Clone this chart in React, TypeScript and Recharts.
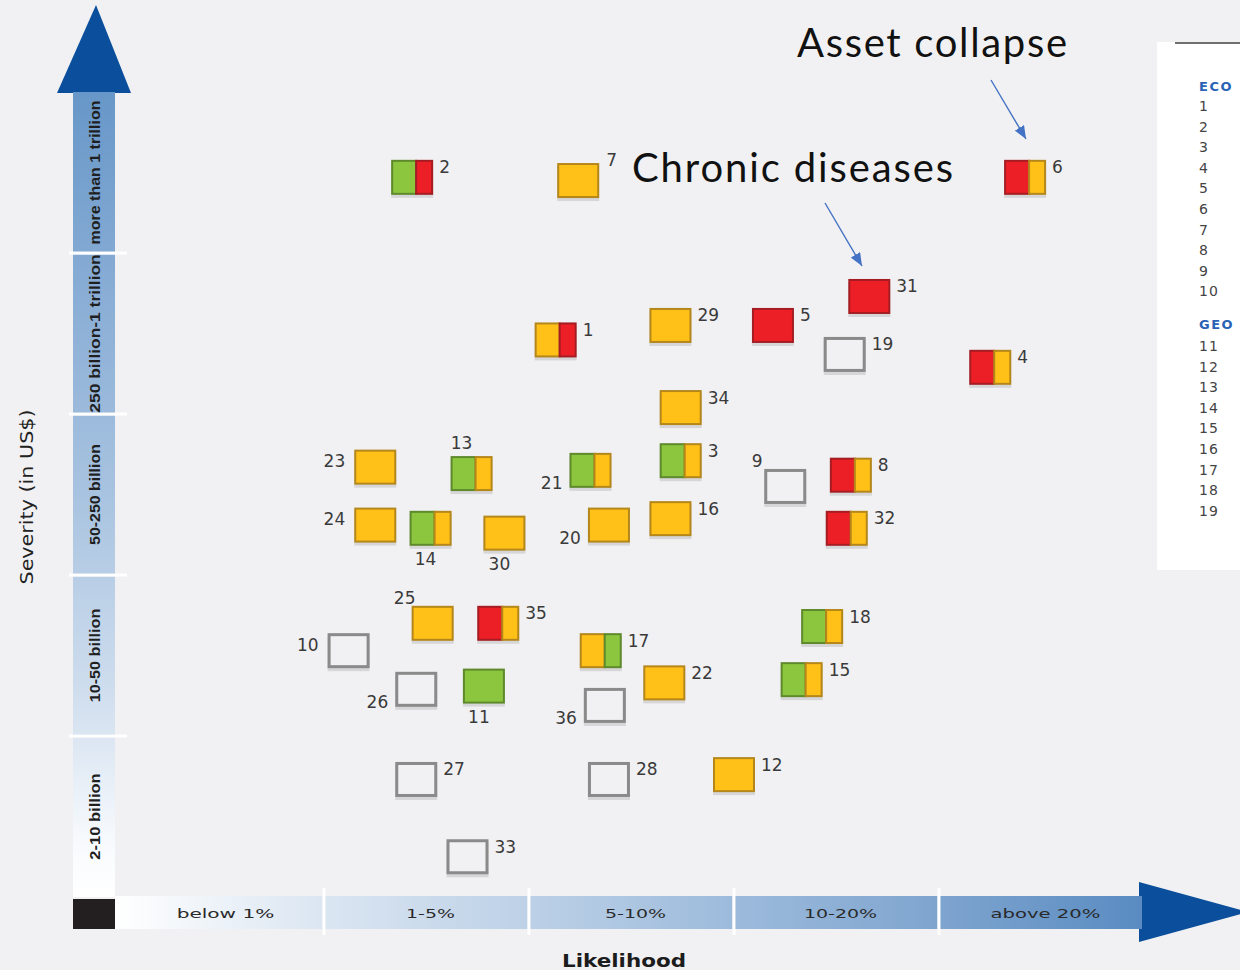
import React from 'react';
import { ScatterChart, Scatter, XAxis, YAxis, Customized } from 'recharts';

// ---------- data ----------
const riskIds = [2, 7, 6, 31, 29, 5, 19, 1, 4, 34, 23, 13, 21, 3, 9, 8, 24, 14, 30, 20, 16, 32, 25, 35, 10, 17, 18, 22, 15, 26, 11, 36, 27, 28, 12, 33];
// likelihood in band units (0 = start of "below 1%", 5 = end of "above 20%")
const likelihood = [1.43, 2.24, 4.42, 3.66, 2.69, 3.19, 3.54, 2.13, 4.25, 2.74, 1.25, 1.72, 2.30, 2.74, 3.25, 3.57, 1.25, 1.52, 1.88, 2.39, 2.69, 3.55, 1.53, 1.85, 1.12, 2.35, 3.43, 2.66, 3.33, 1.45, 1.78, 2.37, 1.45, 2.39, 3.00, 1.70];
// severity in band units (0 = bottom of "2-10 billion", 5 = top of "more than 1 trillion")
const severity = [4.47, 4.45, 4.47, 3.73, 3.55, 3.55, 3.37, 3.46, 3.29, 3.04, 2.67, 2.63, 2.65, 2.71, 2.55, 2.62, 2.31, 2.29, 2.26, 2.31, 2.35, 2.29, 1.70, 1.70, 1.53, 1.53, 1.68, 1.33, 1.35, 1.29, 1.31, 1.19, 0.73, 0.73, 0.76, 0.25];
// G = green, Y = yellow, R = red, "" = empty (outline only)
const riskColors = ['GR', 'Y', 'RY', 'R', 'Y', 'R', '', 'YR', 'RY', 'Y', 'Y', 'GY', 'GY', 'GY', '', 'RY', 'Y', 'GY', 'Y', 'Y', 'Y', 'RY', 'Y', 'RY', '', 'YG', 'GY', 'Y', 'GY', '', 'G', '', '', '', 'Y', ''];
// label side: r = right, tr = top-right, l = left, lb = left-below, t = top, tl = top-left, b = below
const labelSides = ['r', 'tr', 'r', 'r', 'r', 'r', 'r', 'r', 'r', 'r', 'l', 't', 'lb', 'r', 'tl', 'r', 'l', 'b', 'b', 'lb', 'r', 'r', 'tl', 'r', 'l', 'r', 'r', 'r', 'r', 'lb', 'b', 'lb', 'r', 'r', 'r', 'r'];

const likelihoodLabels = ['below 1%', '1-5%', '5-10%', '10-20%', 'above 20%'];
const severityLabels = ['2-10 billion', '10-50 billion', '50-250 billion', '250 billion-1 trillion', 'more than 1 trillion'];
const bandTicks = [0.5, 1.5, 2.5, 3.5, 4.5];

const legendHeadings = ['ECO', 'GEO'];
const ecoIds = [1, 2, 3, 4, 5, 6, 7, 8, 9, 10];
const geoIds = [11, 12, 13, 14, 15, 16, 17, 18, 19];

const chartData = riskIds.map((id, i) => ({
  id,
  x: likelihood[i],
  y: severity[i],
  colors: riskColors[i],
  side: labelSides[i],
}));

// ---------- style constants ----------
const BG = '#f1f1f3';
const ARROW_BLUE = '#0b4f9c';
const FILL: Record<string, string> = { G: '#8cc63f', Y: '#ffc118', R: '#ed1f26' };
const EDGE: Record<string, string> = { G: '#5e8a2c', Y: '#b5871a', R: '#a51d22' };
const SQ_W = 42;
const SQ_H = 35;
const X_BAND = 205;
const Y_BAND = 161;

function RiskSquare(props: any) {
  const { cx, cy, payload } = props;
  if (cx == null || cy == null) return null;
  const x0 = cx - SQ_W / 2;
  const y0 = cy - SQ_H / 2;
  const codes: string[] = payload.colors ? payload.colors.split('') : [];
  const segs: any[] = [];
  if (codes.length === 0) {
    segs.push(
      <rect key="e" x={x0 + 1.5} y={y0 + 1.5} width={SQ_W - 3} height={SQ_H - 3} fill={BG} stroke="#8a8a8a" strokeWidth={3} />
    );
  } else if (codes.length === 1) {
    segs.push(
      <rect key="a" x={x0 + 1} y={y0 + 1} width={SQ_W - 2} height={SQ_H - 2} fill={FILL[codes[0]]} stroke={EDGE[codes[0]]} strokeWidth={2} />
    );
  } else {
    const w1 = Math.round(SQ_W * 0.6);
    segs.push(
      <rect key="a" x={x0 + 1} y={y0 + 1} width={w1 - 1} height={SQ_H - 2} fill={FILL[codes[0]]} stroke={EDGE[codes[0]]} strokeWidth={2} />
    );
    segs.push(
      <rect key="b" x={x0 + w1} y={y0 + 1} width={SQ_W - w1 - 1} height={SQ_H - 2} fill={FILL[codes[1]]} stroke={EDGE[codes[1]]} strokeWidth={2} />
    );
  }
  let lx = cx + 27;
  let ly = cy - 10;
  let anchor: 'start' | 'middle' | 'end' = 'start';
  switch (payload.side) {
    case 'tr': lx = cx + 28; ly = cy - 21; break;
    case 'l': lx = cx - 30; ly = cy - 6; anchor = 'end'; break;
    case 'lb': lx = cx - 28; ly = cy + 13; anchor = 'end'; break;
    case 't': lx = cx - 10; ly = cy - 31; anchor = 'middle'; break;
    case 'tl': lx = cx - 28; ly = cy - 25; anchor = 'middle'; break;
    case 'b': lx = cx - 5; ly = cy + 31; anchor = 'middle'; break;
    default: break;
  }
  return (
    <g>
      <rect x={x0} y={y0 + 3} width={SQ_W} height={SQ_H} fill="#d6d6d8" />
      {segs}
      <text x={lx} y={ly} textAnchor={anchor} dominantBaseline="central" fontFamily="DejaVu Sans" fontSize={17} fill="#3a3a3a">
        {payload.id}
      </text>
    </g>
  );
}

function XBandTick(props: any) {
  const { x, payload } = props;
  const i = Math.floor(payload.value);
  const left = i === 0 ? 115 : x - X_BAND / 2 + 1.5;
  const right = i === 4 ? 1142 : x + X_BAND / 2 - 1.5;
  const label = likelihoodLabels[i];
  return (
    <g>
      <rect x={left} y={896} width={right - left} height={33} fill="url(#xBarGrad)" />
      {i < 4 && <rect x={x + X_BAND / 2 - 1.5} y={888} width={3} height={47} fill="#ffffff" />}
      <text
        x={x + 4}
        y={913}
        textAnchor="middle"
        dominantBaseline="central"
        fontFamily="DejaVu Sans"
        fontSize={13}
        fill="#2a2a2a"
        textLength={label.length * 12.2}
        lengthAdjust="spacingAndGlyphs"
      >
        {label}
      </text>
    </g>
  );
}

function YBandTick(props: any) {
  const { y, payload } = props;
  const i = Math.floor(payload.value);
  const top = i === 4 ? 92 : y - Y_BAND / 2 + 1.5;
  const bottom = i === 0 ? 897 : y + Y_BAND / 2 - 1.5;
  const label = severityLabels[i];
  return (
    <g>
      <rect x={73} y={top} width={42} height={bottom - top} fill="url(#yBarGrad)" />
      {i < 4 && <rect x={69} y={y - Y_BAND / 2 - 1.5} width={58} height={3} fill="#ffffff" />}
      <text
        transform={`translate(94 ${y}) rotate(-90)`}
        textAnchor="middle"
        dominantBaseline="central"
        fontFamily="Liberation Sans"
        fontWeight="bold"
        fontSize={15}
        fill="#1f1f1f"
        textLength={label.length * 7.2}
        lengthAdjust="spacingAndGlyphs"
      >
        {label}
      </text>
    </g>
  );
}

function Decor() {
  return (
    <g>
      <defs>
        <linearGradient id="xBarGrad" gradientUnits="userSpaceOnUse" x1={115} y1={0} x2={1140} y2={0}>
          <stop offset="0" stopColor="#ffffff" />
          <stop offset="0.2" stopColor="#dbe6f2" />
          <stop offset="0.4" stopColor="#bdd1e7" />
          <stop offset="0.6" stopColor="#9dbbdc" />
          <stop offset="0.8" stopColor="#7fa5cf" />
          <stop offset="1" stopColor="#5a8cc2" />
        </linearGradient>
        <linearGradient id="yBarGrad" gradientUnits="userSpaceOnUse" x1={0} y1={92} x2={0} y2={897}>
          <stop offset="0" stopColor="#6797c8" />
          <stop offset="0.25" stopColor="#89add5" />
          <stop offset="0.5" stopColor="#a8c3e0" />
          <stop offset="0.75" stopColor="#d0deee" />
          <stop offset="0.93" stopColor="#f7fafd" />
          <stop offset="1" stopColor="#ffffff" />
        </linearGradient>
        <marker id="annArrow" viewBox="0 0 12 10" refX={12} refY={5} markerWidth={13} markerHeight={11} markerUnits="userSpaceOnUse" orient="auto">
          <path d="M0,0 L12,5 L0,10 z" fill="#4472c4" />
        </marker>
      </defs>

      {/* axis arrows */}
      <polygon points="96,5 57,93 131,93" fill={ARROW_BLUE} />
      <polygon points="1139,882 1248,912 1139,942" fill={ARROW_BLUE} />
      <rect x={73} y={899} width={42} height={30} fill="#231f20" />

      {/* axis titles */}
      <text
        transform="translate(27 497) rotate(-90)"
        textAnchor="middle"
        dominantBaseline="central"
        fontFamily="DejaVu Sans"
        fontSize={17}
        fill="#222"
        textLength={175}
        lengthAdjust="spacingAndGlyphs"
      >
        Severity (in US$)
      </text>
      <text x={624} y={960} textAnchor="middle" dominantBaseline="central" fontFamily="DejaVu Sans" fontWeight="bold" fontSize={18} fill="#1c1c1c" textLength={124} lengthAdjust="spacingAndGlyphs">
        Likelihood
      </text>

      {/* legend panel */}
      <rect x={1157} y={42} width={100} height={528} fill="#ffffff" />
      <line x1={1175} y1={43} x2={1240} y2={43} stroke="#707070" strokeWidth={2} />
      <text x={1199} y={86} dominantBaseline="central" fontFamily="DejaVu Sans" fontWeight="bold" fontSize={13} fill="#2a63b6" letterSpacing={1.5}>
        {legendHeadings[0]}
      </text>
      {ecoIds.map((n, i) => (
        <text key={n} x={1199} y={106 + i * 20.6} dominantBaseline="central" fontFamily="DejaVu Sans" fontSize={14} fill="#444" letterSpacing={1}>
          {n}
        </text>
      ))}
      <text x={1199} y={324} dominantBaseline="central" fontFamily="DejaVu Sans" fontWeight="bold" fontSize={13} fill="#2a63b6" letterSpacing={1.5}>
        {legendHeadings[1]}
      </text>
      {geoIds.map((n, i) => (
        <text key={n} x={1199} y={346 + i * 20.6} dominantBaseline="central" fontFamily="DejaVu Sans" fontSize={14} fill="#444" letterSpacing={1}>
          {n}
        </text>
      ))}

      {/* annotations */}
      <text x={797} y={57} fontFamily="Lato" fontSize={40} fill="#111" textLength={270} lengthAdjust="spacing">
        Asset collapse
      </text>
      <line x1={991} y1={80} x2={1026} y2={139} stroke="#4472c4" strokeWidth={1.4} markerEnd="url(#annArrow)" />
      <text x={632} y={182} fontFamily="Lato" fontSize={40} fill="#111" textLength={321} lengthAdjust="spacing">
        Chronic diseases
      </text>
      <line x1={825} y1={203} x2={862} y2={266} stroke="#4472c4" strokeWidth={1.4} markerEnd="url(#annArrow)" />
    </g>
  );
}

export default function App() {
  return (
    <div style={{ position: 'absolute', left: 0, top: 0, width: 1240, height: 970, background: BG, overflow: 'hidden' }}>
      <ScatterChart width={1240} height={970} margin={{ top: 92, right: 96, bottom: 0, left: 0 }}>
        <XAxis
          type="number"
          dataKey="x"
          domain={[0, 5]}
          ticks={bandTicks}
          interval={0}
          height={73}
          axisLine={false}
          tickLine={false}
          tick={(p: any) => <XBandTick {...p} />}
        />
        <YAxis
          type="number"
          dataKey="y"
          domain={[0, 5]}
          ticks={bandTicks}
          interval={0}
          width={119}
          axisLine={false}
          tickLine={false}
          tick={(p: any) => <YBandTick {...p} />}
        />
        <Customized component={Decor} />
        <Scatter data={chartData} isAnimationActive={false} shape={(p: any) => <RiskSquare {...p} />} />
      </ScatterChart>
    </div>
  );
}
